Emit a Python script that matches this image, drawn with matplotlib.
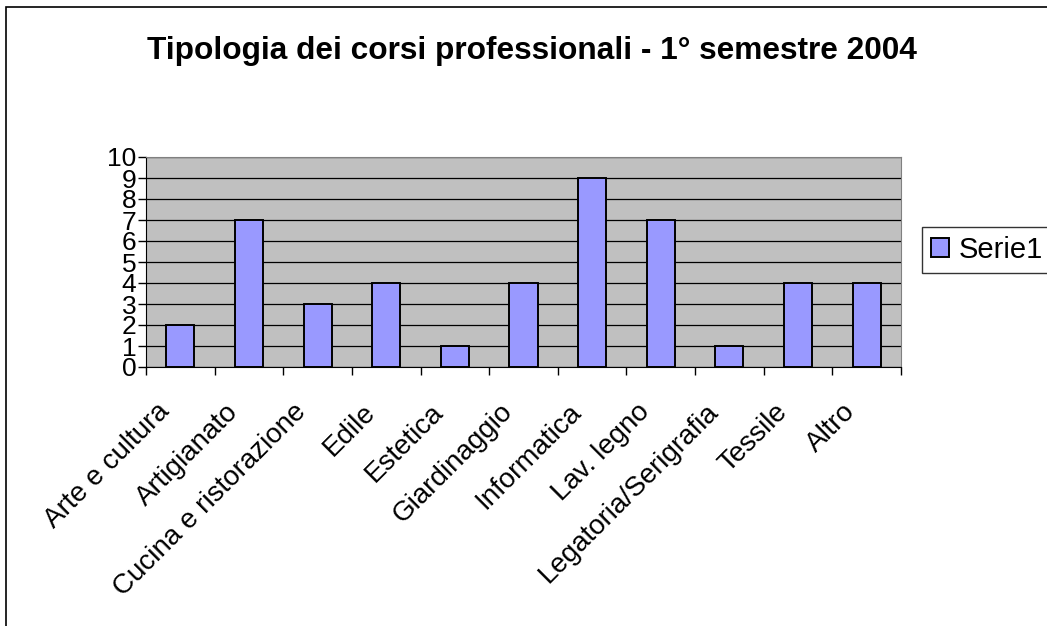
import matplotlib.pyplot as plt
from matplotlib.patches import Rectangle
import matplotlib.transforms as mtrans
import numpy as np

categories = ["Arte e cultura", "Artigianato", "Cucina e ristorazione", "Edile",
              "Estetica", "Giardinaggio", "Informatica", "Lav. legno",
              "Legatoria/Serigrafia", "Tessile", "Altro"]
values = [2, 7, 3, 4, 1, 4, 9, 7, 1, 4, 4]

BAR_C = "#9999FF"
PLOT_BG = "#C0C0C0"

plt.rcParams["font.family"] = ["Liberation Sans", "DejaVu Sans"]

W, H = 1047, 626
fig = plt.figure(figsize=(W / 100, H / 100), dpi=100)
ax = fig.add_axes([146 / W, 1 - 367 / H, (901 - 146) / W, (367 - 157) / H])

x = np.arange(len(categories))
ax.bar(x, values, width=0.41, color=BAR_C, edgecolor="black", linewidth=1.4,
       zorder=3, label="Serie1")

ax.set_facecolor(PLOT_BG)
ax.set_xlim(-0.5, len(categories) - 0.5)
ax.set_ylim(0, 10)
ax.set_yticks(range(0, 11))
ax.yaxis.grid(True, color="black", linewidth=0.9, zorder=1)
ax.set_axisbelow(True)

# category boundaries carry the ticks, names are placed under each bar
ax.set_xticks(np.arange(len(categories) + 1) - 0.5)
ax.set_xticklabels([])
ax.tick_params(axis="x", length=6, direction="out", width=1)
ax.tick_params(axis="y", length=6, direction="out", width=1, labelsize=19, pad=1)

offset = mtrans.ScaledTranslation(-15 / 100, -41 / 100, fig.dpi_scale_trans)
for i, name in zip(x, categories):
    ax.text(i, 0, name, transform=ax.get_xaxis_transform() + offset,
            rotation=45, rotation_mode="anchor", ha="right", va="center",
            fontsize=20)

for s in ["top", "right"]:
    ax.spines[s].set_color("#808080")
for s in ["left", "bottom"]:
    ax.spines[s].set_color("black")

fig.text(532 / W, 1 - 51 / H, "Tipologia dei corsi professionali - 1° semestre 2004",
         ha="center", va="center", fontsize=22.8, fontweight="bold")

leg = ax.legend(loc="center left", bbox_to_anchor=(922 / W, 1 - 250 / H),
                bbox_transform=fig.transFigure, fontsize=21, frameon=True,
                fancybox=False, edgecolor="black", handlelength=0.62,
                handleheight=0.62, handletextpad=0.35, borderpad=0.3,
                borderaxespad=0)
leg.get_frame().set_linewidth(1)

fig.patches.append(Rectangle((6 / W, -0.1), 1.2, 1 - 7 / H + 0.1,
                             transform=fig.transFigure, fill=False,
                             edgecolor="black", linewidth=1.2))

fig.savefig("out.png", dpi=100)
